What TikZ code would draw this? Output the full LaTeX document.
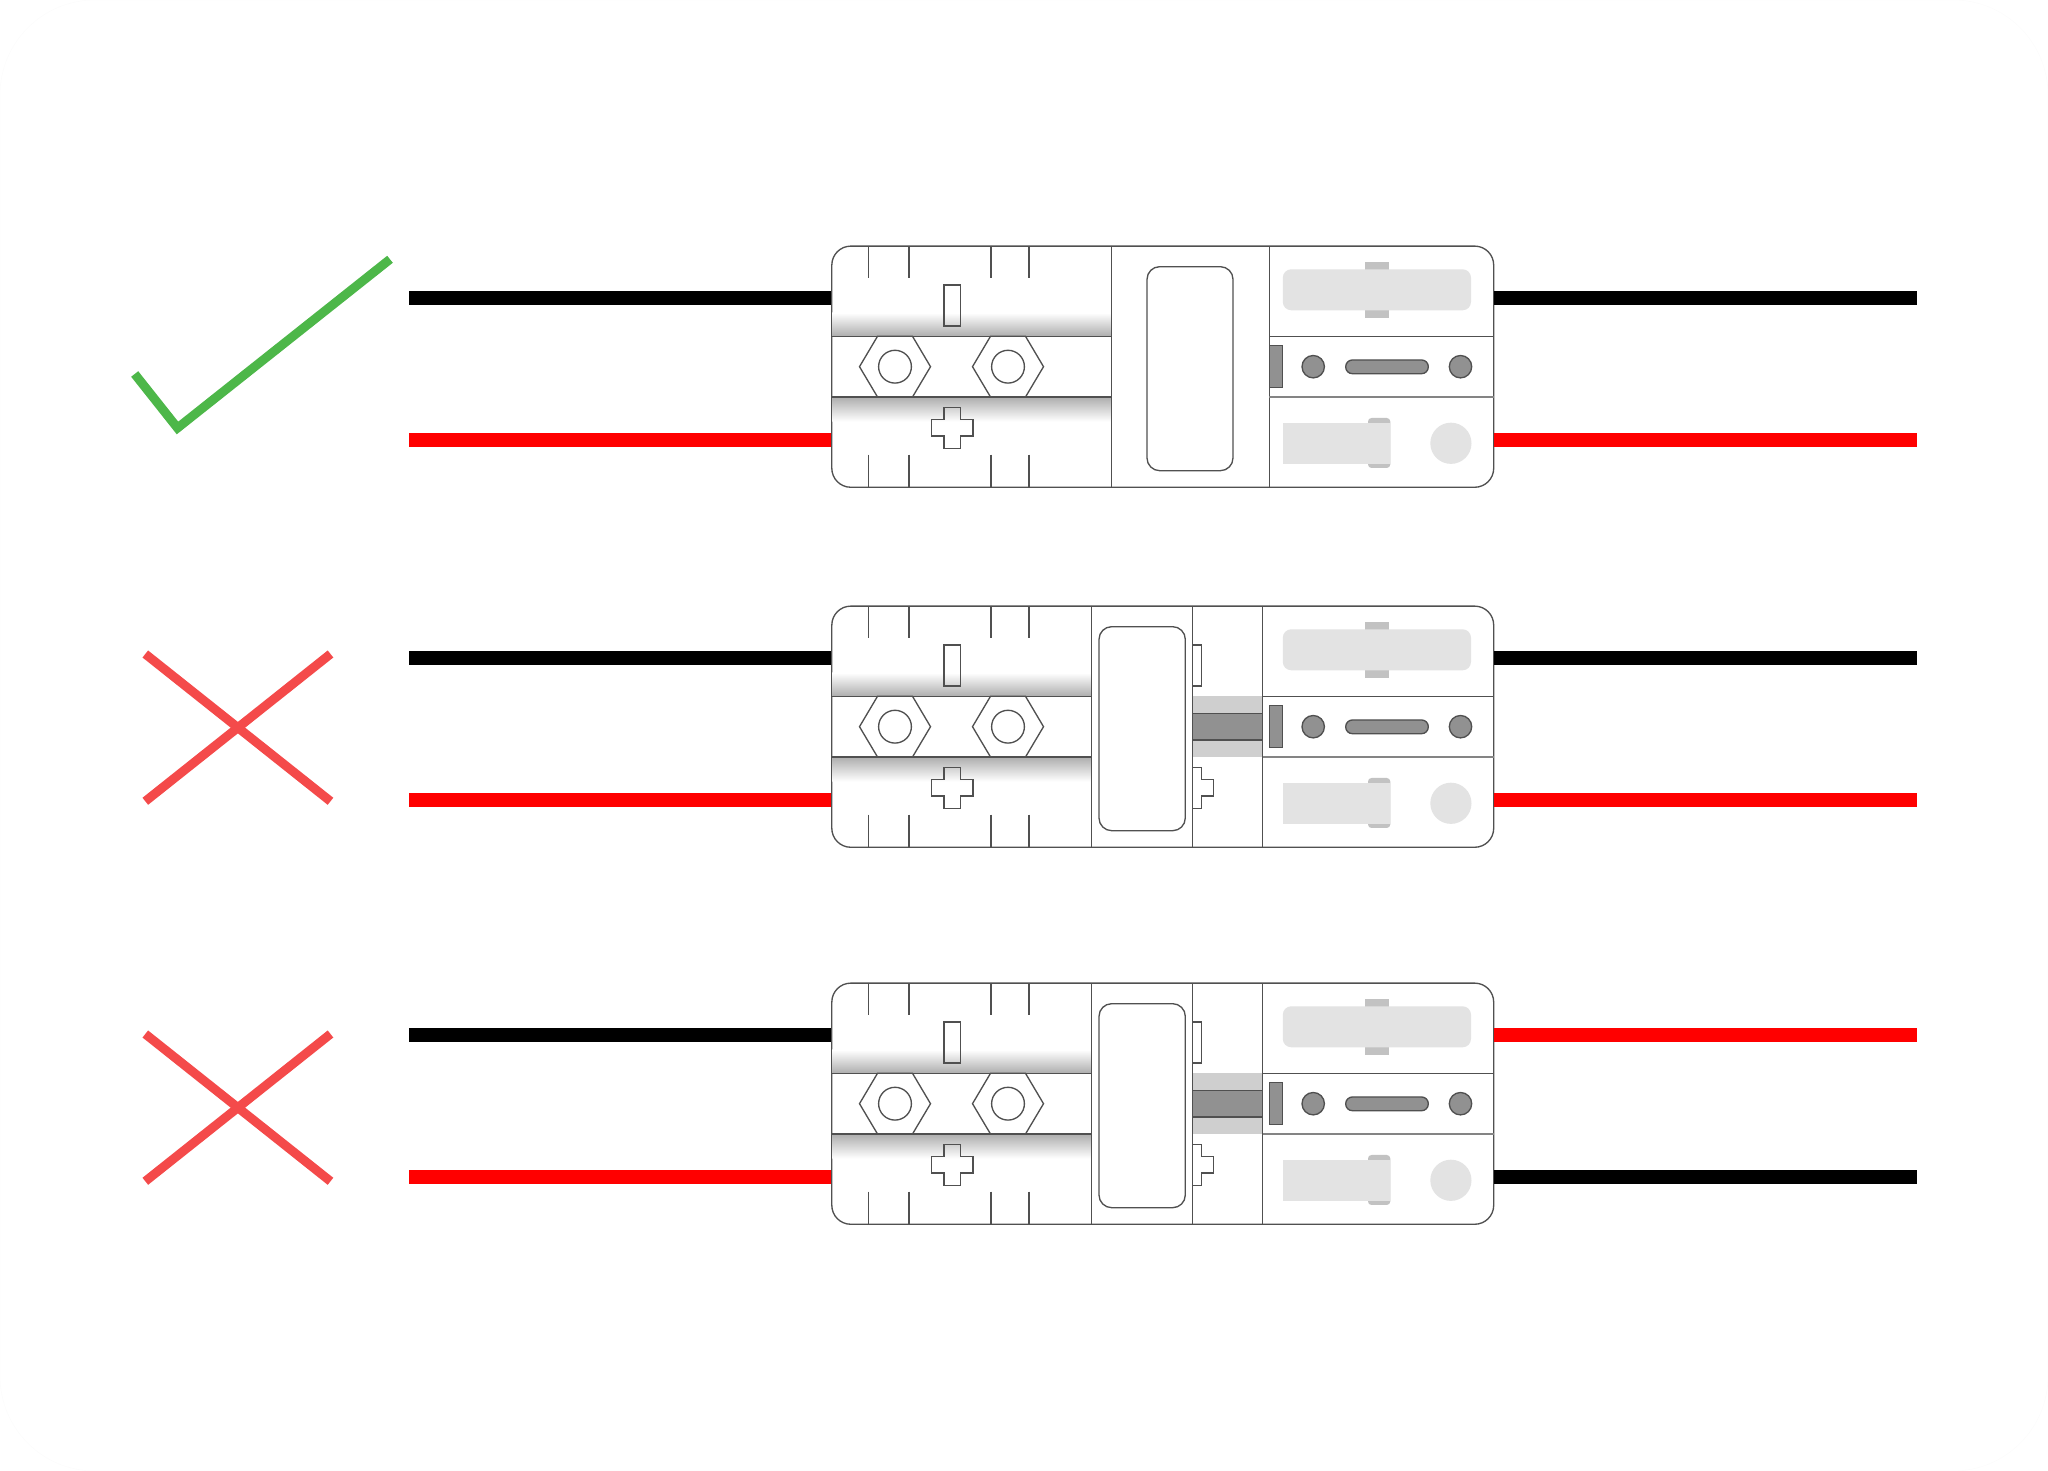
\documentclass[tikz,border=0pt]{standalone}
\usetikzlibrary{positioning}

\definecolor{okgreen}{HTML}{4DB749}
\definecolor{badred}{HTML}{F44A4A}
\definecolor{wirered}{HTML}{FF0000}
\definecolor{outline}{HTML}{505050}
\definecolor{darkfill}{HTML}{919191}
\definecolor{lightfill}{HTML}{E3E3E3}
\definecolor{tabfill}{HTML}{C2C2C2}
\definecolor{bandfill}{HTML}{CFCFCF}

\tikzset{
  wire/.style={line width=4.15pt},
  part/.style={draw=outline, line width=0.38pt},
  housing/.style={part, fill=white, rectangle, rounded corners=5.4pt, inner sep=0pt,
    minimum width=6.615cm, minimum height=2.41cm},
  dark/.style={part, fill=darkfill},
  light/.style={fill=lightfill},
  tab/.style={fill=tabfill},
  verdict/.style={line width=2.56pt},
}

% #1 name, #2 y offset, #3 #4 housing dividers, #5 #6 window edges, #7 #8 right wire colours
\newcommand{\plug}[8]{
  \begin{scope}[shift={(0,#2)}]
    \coordinate (#1lefttop) at (409,298);
    \coordinate (#1leftbot) at (409,440);
    \coordinate (#1righttop) at (1916.5,298);
    \coordinate (#1rightbot) at (1916.5,440);
    \node [housing] (#1) at (1162.75,366.7) {};
    \draw [wire, black] (#1lefttop) -- (#1lefttop -| #1.west);
    \draw [wire, wirered] (#1leftbot) -- (#1leftbot -| #1.west);
    \draw [wire, #7] (#1righttop -| #1.east) -- (#1righttop);
    \draw [wire, #8] (#1rightbot -| #1.east) -- (#1rightbot);
    % shading on the left half
    \shade [top color=white, bottom color=black!32] (832.3,313) rectangle (#3,336.3);
    \shade [top color=black!32, bottom color=white] (832.3,397) rectangle (#3,421.5);
    \foreach \x in {868.5,909,991,1029} {
      \draw [part] (\x,246) -- (\x,277.7);
      \draw [part] (\x,454.7) -- (\x,487);
    }
    \draw [part] (944,285) rectangle (960.5,326);
    \draw [part] (944,407.3) -- (960.5,407.3) -- (960.5,419.3) -- (973,419.3) -- (973,436)
      -- (960.5,436) -- (960.5,448.7) -- (944,448.7) -- (944,436) -- (931.4,436)
      -- (931.4,419.3) -- (944,419.3) -- cycle;
    \foreach \x in {895,1008} {
      \draw [part] (\x-35.5,366.7) -- (\x-17.5,336.3) -- (\x+17.5,336.3) -- (\x+35.5,366.7)
        -- (\x+17.5,397) -- (\x-17.5,397) -- cycle;
      \draw [part] (\x,366.7) circle [radius=16.4];
    }
    \draw [part] (832,336.3) -- (#3,336.3);
    \draw [part] (832,397) -- (#3,397);
    \draw [part, rounded corners=3.6pt] (#5,266.7) rectangle (#6,470.7);
    \draw [part] (#3,246) -- (#3,487);
    \draw [part] (#4,246) -- (#4,487);
    % right half
    \draw [part] (#4,336.3) -- (1493.5,336.3);
    \draw [part, draw=outline!70] (#4,397) -- (1493.5,397);
    \fill [tab] (1365.4,261.7) rectangle (1388.6,318.3);
    \fill [light, rounded corners=2.4pt] (1282.8,269.3) rectangle (1471,310.3);
    \draw [dark] (1269.4,345.7) rectangle (1282.5,387.7);
    \draw [dark] (1313.2,366.7) circle [radius=11.2];
    \draw [dark] (1460.5,366.7) circle [radius=11.2];
    \draw [dark, rounded corners=1.9pt] (1345.7,360) rectangle (1428.3,373.7);
    \fill [tab, rounded corners=1pt] (1368,418) rectangle (1390.3,468);
    \fill [light] (1282.8,422.7) rectangle (1390.3,464);
    \fill [light] (1450.9,443.3) circle [radius=20.6];
  \end{scope}
}

% #1 y offset, what shows of the slid part
\newcommand{\slidout}[1]{
  \begin{scope}[shift={(0,#1)}]
    \draw [part] (1192.7,285) -- (1201.7,285) -- (1201.7,326) -- (1192.7,326);
    \draw [part] (1192.7,407.3) -- (1201.7,407.3) -- (1201.7,419.3) -- (1213.7,419.3)
      -- (1213.7,436) -- (1201.7,436) -- (1201.7,448.7) -- (1192.7,448.7);
    \fill [bandfill] (1192.7,336.3) rectangle (1262.5,397);
    \draw [dark] (1192.7,353.7) rectangle (1262.5,380);
    \draw [part] (1192.7,246) -- (1192.7,487);
    \draw [part] (1262.5,246) -- (1262.5,487);
  \end{scope}
}

\begin{document}
\begin{tikzpicture}[x=0.01cm, y=-0.01cm]
  \useasboundingbox (0,0) rectangle (2048,1471);
  \draw [black!1, line width=0.2pt, rounded corners=27pt] (0,0) rectangle (2048,1471);

  \plug{good}{0}{1111.3}{1269.4}{1147}{1233}{black}{wirered}
  \plug{gap}{360}{1091.3}{1262.5}{1099}{1185.3}{black}{wirered}
  \slidout{360}
  \plug{swap}{737}{1091.3}{1262.5}{1099}{1185.3}{wirered}{black}
  \slidout{737}

  \draw [verdict, okgreen] (134.7,374) -- (177.5,428) -- (390,259.3);

  \draw [verdict, badred] (145.3,654) -- (330.5,801.3);
  \draw [verdict, badred] (330.5,654) -- (145.3,801.3);

  \draw [verdict, badred] (145.3,1034) -- (330.5,1181.3);
  \draw [verdict, badred] (330.5,1034) -- (145.3,1181.3);
\end{tikzpicture}
\end{document}
